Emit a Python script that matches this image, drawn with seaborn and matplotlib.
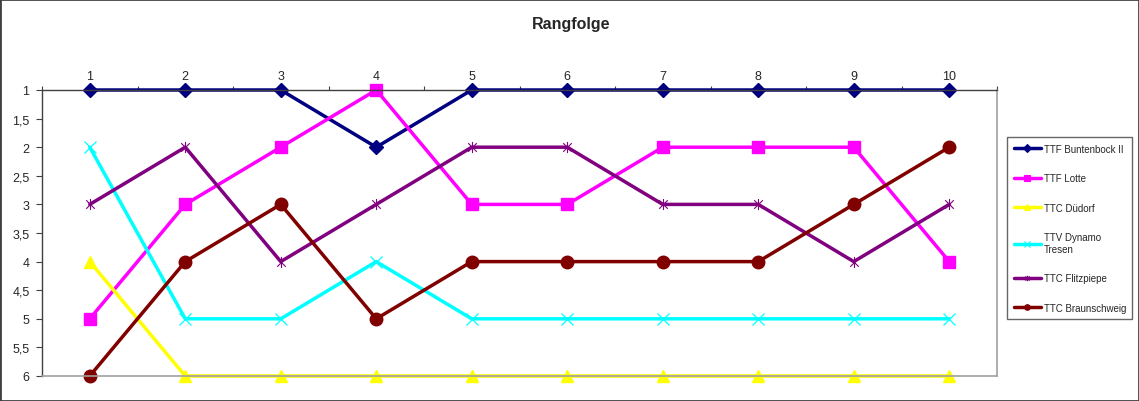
import matplotlib
matplotlib.use("Agg")
import matplotlib.pyplot as plt
import seaborn as sns
import numpy as np
import pandas as pd
from matplotlib.path import Path
from matplotlib.lines import Line2D
from matplotlib.patches import Rectangle
from matplotlib.ticker import FixedLocator, FuncFormatter

rounds = [1, 2, 3, 4, 5, 6, 7, 8, 9, 10]
teams = ["TTF Buntenbock II", "TTF Lotte", "TTC Düdorf",
         "TTV Dynamo Tresen", "TTC Flitzpiepe", "TTC Braunschweig"]
buntenbock = [1, 1, 1, 2, 1, 1, 1, 1, 1, 1]
lotte = [5, 3, 2, 1, 3, 3, 2, 2, 2, 4]
duedorf = [4, 6, 6, 6, 6, 6, 6, 6, 6, 6]
dynamo = [2, 5, 5, 4, 5, 5, 5, 5, 5, 5]
flitzpiepe = [3, 2, 4, 3, 2, 2, 3, 3, 4, 3]
braunschweig = [6, 4, 3, 5, 4, 4, 4, 4, 3, 2]
legend_labels = ["TTF Buntenbock II", "TTF Lotte", "TTC Düdorf",
                 "TTV Dynamo\nTresen", "TTC Flitzpiepe", "TTC Braunschweig"]

series = [buntenbock, lotte, duedorf, dynamo, flitzpiepe, braunschweig]
colors = ["#000080", "#FF00FF", "#FFFF00", "#00FFFF", "#800080", "#800000"]

star = Path([(-1, -1), (1, 1), (-1, 1), (1, -1), (0, -1.3), (0, 1.3)],
            [Path.MOVETO, Path.LINETO] * 3)
markers = ["D", "s", "^", "x", star, "o"]
msizes = [7, 8, 9, 9, 8, 9]
mews = [1, 1, 1, 0.9, 0.8, 1]

sns.set_style("white")
plt.rcParams["font.family"] = ["Liberation Sans", "DejaVu Sans"]

fig = plt.figure(figsize=(11.39, 4.02), dpi=100)
ax = fig.add_axes([42 / 1139, 1 - 377 / 402, (997 - 42) / 1139, (377 - 91) / 402])

for team, vals, c, m, ms, mew in zip(teams, series, colors, markers, msizes, mews):
    df = pd.DataFrame({"Runde": rounds, "Rang": vals})
    sns.lineplot(data=df, x="Runde", y="Rang", ax=ax, color=c, linewidth=2.5,
                 marker=m, markersize=ms, markerfacecolor=c, markeredgecolor=c,
                 markeredgewidth=mew, clip_on=False, legend=False)

ax.set_xlim(0.5, 10.5)
ax.set_ylim(6, 1)
ax.set_xlabel("")
ax.set_ylabel("")

ax.xaxis.tick_top()
ax.xaxis.set_label_position("top")
ax.set_xticks(rounds)
ax.set_xticklabels([str(r) for r in rounds], fontsize=9)
ax.xaxis.set_minor_locator(FixedLocator(np.arange(0.5, 11, 1)))
ax.tick_params(axis="x", which="major", length=0, pad=6, top=True, bottom=False)
ax.tick_params(axis="x", which="minor", length=3, width=0.8, color="#404040",
               top=True, bottom=False, direction="out")

yt = np.arange(1, 6.01, 0.5)
ax.set_yticks(yt)
ax.yaxis.set_major_formatter(FuncFormatter(lambda v, p: f"{v:g}".replace(".", ",")))
ax.tick_params(axis="y", which="major", length=4, width=0.8, color="#404040",
               left=True, labelsize=9, pad=5, direction="out")

for s in ["top", "left"]:
    ax.spines[s].set_color("#404040")
    ax.spines[s].set_linewidth(1)
for s in ["right", "bottom"]:
    ax.spines[s].set_color("#A0A0A0")
    ax.spines[s].set_linewidth(1.2)
ax.grid(False)

fig.text(571 / 1139, 1 - 24 / 402, "Rangfolge", ha="center", va="center",
         fontsize=11.5, fontweight="bold")

handles = [Line2D([0], [0], color=c, lw=2.5, marker=m, markersize=4,
                  markerfacecolor=c, markeredgecolor=c, markeredgewidth=0.8)
           for c, m in zip(colors, markers)]
leg = fig.legend(handles, legend_labels, loc="upper left",
                 bbox_to_anchor=(1007 / 1139, 1 - 329 / 402, 125 / 1139, 191 / 402),
                 mode="expand", fontsize=7, frameon=True, fancybox=False,
                 labelspacing=2.0, handlelength=2.8, handletextpad=0.3,
                 borderaxespad=0, borderpad=0.7)
leg.get_frame().set_edgecolor("#404040")
leg.get_frame().set_linewidth(1)

fig.patches.append(Rectangle((0, 0), 1, 1, transform=fig.transFigure, fill=False,
                             edgecolor="#404040", linewidth=2))

fig.savefig("out.png", dpi=100)
